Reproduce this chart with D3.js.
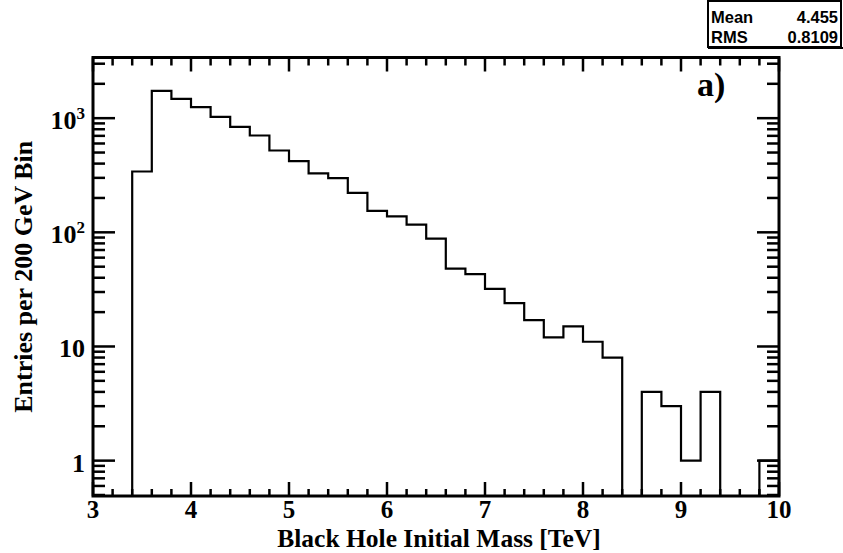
<!DOCTYPE html>
<html>
<head>
<meta charset="utf-8">
<script src="https://cdn.jsdelivr.net/npm/d3@7/dist/d3.min.js"></script>
<style>
  html, body { margin: 0; padding: 0; background: #fff; }
  svg { display: block; }
</style>
</head>
<body>
<svg id="chart" width="843" height="553"></svg>
<script>
// ---- data ----
const binLowEdges = [3.4, 3.6, 3.8, 4.0, 4.2, 4.4, 4.6, 4.8, 5.0, 5.2, 5.4, 5.6, 5.8, 6.0, 6.2, 6.4,
                     6.6, 6.8, 7.0, 7.2, 7.4, 7.6, 7.8, 8.0, 8.2, 8.4, 8.6, 8.8, 9.0, 9.2, 9.4, 9.6, 9.8];
const binWidth = 0.2;
const entries = [341, 1733, 1475, 1248, 1026, 839, 705, 521, 421, 328, 298, 222, 154, 138, 117, 88,
                 48, 43, 32, 24, 17, 12, 15, 11, 8, 0, 4, 3, 1, 4, 0, 0, 1];
const xTickValues = [3, 4, 5, 6, 7, 8, 9, 10];
const yMajorTicks = [1, 10, 100, 1000];
const yTickLabels = ["1", "10", "10|2", "10|3"];
const statsNames = ["Mean", "RMS"];
const statsValues = ["4.455", "0.8109"];
const xTitle = "Black Hole Initial Mass [TeV]";
const yTitle = "Entries per 200 GeV Bin";
const panelLabel = "a)";

// ---- layout ----
const L = 93, R = 779, T = 57.5, B = 496;
const svg = d3.select("#chart");
const x = d3.scaleLinear().domain([3, 10]).range([L, R]);
const y = d3.scaleLog().domain([0.49, 3400]).range([B, T]);
const serif = "'Liberation Serif', 'Times New Roman', serif";
const sans = "'Liberation Sans', Arial, sans-serif";

// ---- histogram outline ----
const pts = [[x(binLowEdges[0]), B]];
binLowEdges.forEach((lo, i) => {
  const v = entries[i];
  const yy = v > 0 ? y(v) : B;
  pts.push([x(lo), yy]);
  pts.push([x(lo + binWidth), yy]);
});
pts.push([x(binLowEdges[binLowEdges.length - 1] + binWidth), B]);
svg.append("path")
  .attr("d", d3.line()(pts))
  .attr("fill", "none")
  .attr("stroke", "#000")
  .attr("stroke-width", 2.2)
  .attr("stroke-linejoin", "miter");

// ---- ticks ----
const tickG = svg.append("g").attr("stroke", "#000").attr("stroke-width", 2.5);
const xMinor = d3.range(0, 36).map(i => 3 + i * 0.2);
xMinor.forEach(v => {
  const isMajor = Math.abs(v - Math.round(v)) < 1e-6;
  const len = isMajor ? 14 : 7;
  const lenTop = isMajor ? 14 : 8;
  tickG.append("line").attr("x1", x(v)).attr("x2", x(v)).attr("y1", B).attr("y2", B - len);
  tickG.append("line").attr("x1", x(v)).attr("x2", x(v)).attr("y1", T).attr("y2", T + lenTop);
});
const yMinor = [];
[0.1, 1, 10, 100, 1000].forEach(d => {
  for (let k = 1; k <= 9; k++) {
    const v = k * d;
    if (v >= 0.49 && v <= 3400) yMinor.push({ v, major: k === 1 });
  }
});
yMinor.forEach(t => {
  const len = t.major ? 22 : 12;
  tickG.append("line").attr("x1", L).attr("x2", L + len).attr("y1", y(t.v)).attr("y2", y(t.v));
  tickG.append("line").attr("x1", R).attr("x2", R - len).attr("y1", y(t.v)).attr("y2", y(t.v));
});

// ---- frame ----
svg.append("rect")
  .attr("x", L).attr("y", T).attr("width", R - L).attr("height", B - T)
  .attr("fill", "none").attr("stroke", "#000").attr("stroke-width", 3);

// ---- x tick labels ----
svg.append("g").selectAll("text").data(xTickValues).join("text")
  .attr("x", d => x(d))
  .attr("y", 518)
  .attr("text-anchor", "middle")
  .attr("font-family", serif).attr("font-weight", "bold").attr("font-size", 25)
  .text(d => d);

// ---- y tick labels ----
yMajorTicks.forEach((v, i) => {
  const parts = yTickLabels[i].split("|");
  const t = svg.append("text")
    .attr("x", 85).attr("y", y(v) + 11)
    .attr("text-anchor", "end")
    .attr("font-family", serif).attr("font-weight", "bold").attr("font-size", 26);
  t.append("tspan").text(parts[0]);
  if (parts[1]) {
    t.append("tspan").attr("dy", -10).attr("font-size", 17).text(parts[1]);
  }
});

// ---- axis titles ----
svg.append("text")
  .attr("x", (L + R) / 2 + 3).attr("y", 547)
  .attr("text-anchor", "middle")
  .attr("font-family", serif).attr("font-weight", "bold").attr("font-size", 25.5)
  .text(xTitle);
svg.append("text")
  .attr("transform", `translate(32,${(T + B) / 2}) rotate(-90)`)
  .attr("text-anchor", "middle")
  .attr("font-family", serif).attr("font-weight", "bold").attr("font-size", 26)
  .text(yTitle);

// ---- panel label ----
svg.append("text")
  .attr("x", 697).attr("y", 96)
  .attr("font-family", serif).attr("font-weight", "bold").attr("font-size", 34)
  .text(panelLabel);

// ---- stats box ----
const sb = svg.append("g");
sb.append("rect").attr("x", 708).attr("y", 1).attr("width", 133).attr("height", 46)
  .attr("fill", "#fff").attr("stroke", "#000").attr("stroke-width", 2);
sb.append("line").attr("x1", 708).attr("x2", 843).attr("y1", 48).attr("y2", 48)
  .attr("stroke", "#000").attr("stroke-width", 2);
statsNames.forEach((n, i) => {
  sb.append("text").attr("x", 711).attr("y", 23 + i * 20)
    .attr("font-family", sans).attr("font-weight", "bold").attr("font-size", 16.5).text(n);
  sb.append("text").attr("x", 838).attr("y", 23 + i * 20).attr("text-anchor", "end")
    .attr("font-family", sans).attr("font-weight", "bold").attr("font-size", 16.5).text(statsValues[i]);
});
</script>
</body>
</html>
